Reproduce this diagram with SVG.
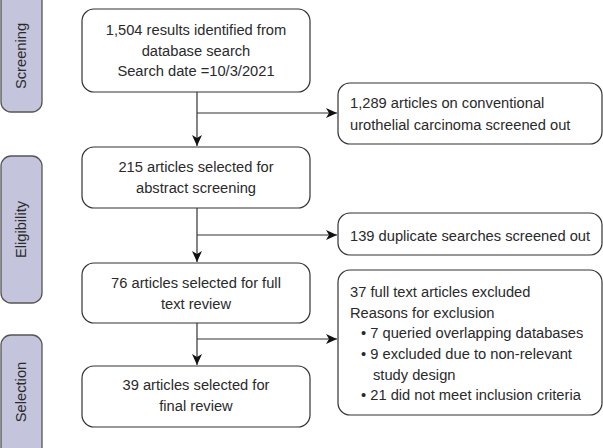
<svg xmlns="http://www.w3.org/2000/svg" width="603" height="448" viewBox="0 0 603 448">
<style>
.stage{fill:#c4c4dc;stroke:#555;stroke-width:1.3}
.box{fill:#fff;stroke:#333;stroke-width:1.2}
.t{font-family:"Liberation Sans",Arial,sans-serif;font-size:14.7px;fill:#2a2a2a}
.c{text-anchor:middle}
.ln{fill:none;stroke:#333;stroke-width:1.2}
</style>
<defs>
<marker id="ah" markerWidth="12" markerHeight="10" refX="11" refY="5" orient="auto" markerUnits="userSpaceOnUse">
<path d="M0,0 L11,5 L0,10 L3,5 Z" fill="#111"/>
</marker>
</defs>
<g id="stage-screening"><rect class="stage" x="1" y="-10" width="41" height="122" rx="10"/><text class="t c" transform="translate(26,56) rotate(-90)">Screening</text></g>
<g id="stage-eligibility"><rect class="stage" x="1" y="156" width="41" height="147" rx="10"/><text class="t c" transform="translate(26,229.5) rotate(-90)">Eligibility</text></g>
<g id="stage-selection"><rect class="stage" x="1" y="335" width="41" height="123" rx="10"/><text class="t c" transform="translate(26,392) rotate(-90)">Selection</text></g>

<g id="connectors">
<line class="ln" x1="197" y1="92" x2="197" y2="146" marker-end="url(#ah)"/>
<line class="ln" x1="197" y1="113" x2="337" y2="113" marker-end="url(#ah)"/>
<line class="ln" x1="197" y1="208" x2="197" y2="262" marker-end="url(#ah)"/>
<line class="ln" x1="197" y1="235" x2="337" y2="235" marker-end="url(#ah)"/>
<line class="ln" x1="197" y1="323" x2="197" y2="365" marker-end="url(#ah)"/>
<line class="ln" x1="197" y1="339" x2="337" y2="339" marker-end="url(#ah)"/>
</g>

<g id="n1"><rect class="box" x="82" y="9" width="228" height="83" rx="12"/>
<text class="t c" x="196" y="35">1,504 results identified from</text>
<text class="t c" x="196" y="55.5">database search</text>
<text class="t c" x="196" y="76">Search date =10/3/2021</text></g>
<g id="n2"><rect class="box" x="82" y="147" width="228" height="61" rx="12"/>
<text class="t c" x="196" y="172">215 articles selected for</text>
<text class="t c" x="196" y="193">abstract screening</text></g>
<g id="n3"><rect class="box" x="82" y="263" width="228" height="60" rx="12"/>
<text class="t c" x="196" y="288">76 articles selected for full</text>
<text class="t c" x="196" y="308.5">text review</text></g>
<g id="n4"><rect class="box" x="82" y="366" width="228" height="61" rx="12"/>
<text class="t c" x="196" y="390">39 articles selected for</text>
<text class="t c" x="196" y="410.5">final review</text></g>

<g id="r1"><rect class="box" x="338" y="83" width="264" height="61" rx="12"/>
<text class="t" x="350" y="108">1,289 articles on conventional</text>
<text class="t" x="350" y="130">urothelial carcinoma screened out</text></g>
<g id="r2"><rect class="box" x="338" y="213" width="264" height="42" rx="12"/>
<text class="t" x="350" y="241">139 duplicate searches screened out</text></g>
<g id="r3"><rect class="box" x="338" y="270" width="264" height="145" rx="12"/>
<text class="t" x="350" y="297">37 full text articles excluded</text>
<text class="t" x="350" y="317.5">Reasons for exclusion</text>
<text class="t" x="361" y="338">• 7 queried overlapping databases</text>
<text class="t" x="361" y="359">• 9 excluded due to non-relevant</text>
<text class="t" x="373" y="379.5">study design</text>
<text class="t" x="361" y="400">• 21 did not meet inclusion criteria</text></g>
</svg>
